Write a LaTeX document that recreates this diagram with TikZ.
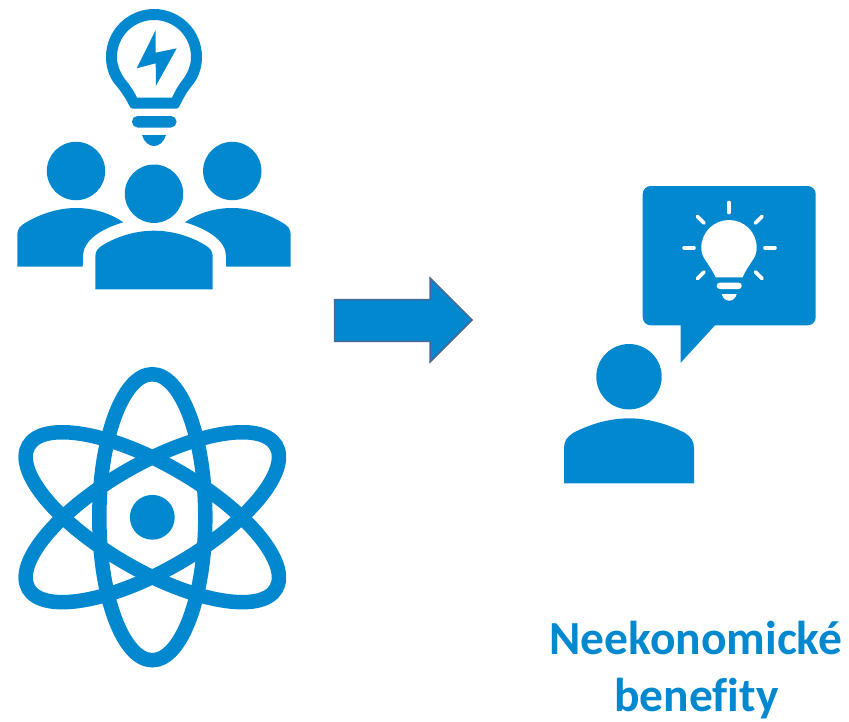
\documentclass[tikz,border=0pt]{standalone}
\usepackage{fontspec}
\setmainfont[RawFeature={-liga}]{Carlito}
\definecolor{iconblue}{HTML}{0288CF}
\definecolor{arrowedge}{HTML}{46699A}
\tikzset{
  icon/.style={fill=iconblue,draw=none},
  whiteicon/.style={fill=white,draw=none},
  ray/.style={draw=white,line width=3.6pt,line cap=round},
  orbit/.style={draw=iconblue,line width=14.5pt},
  caption/.style={text=iconblue,font=\fontsize{47.5}{47.5}\selectfont\bfseries,inner sep=0pt,anchor=base}
}
\begin{document}
\begin{tikzpicture}[x=1pt,y=-1pt]
\useasboundingbox (0,0) rectangle (849,721);
% idea bulb
\path[icon,even odd rule]
  (129,105) .. controls (125,97) and (120,90) .. (114,83)
  .. controls (109,76) and (106,67) .. (106,57)
  .. controls (106,30) and (128,9) .. (154,9)
  .. controls (180,9) and (202,30) .. (202,57)
  .. controls (202,67) and (199,76) .. (194,83)
  .. controls (188,90) and (184,97) .. (180,105)
  .. controls (179,107.5) and (178,108.7) .. (176,108.7)
  -- (133,108.7) .. controls (131,108.7) and (130,107.5) .. (129,105) -- cycle
  (137,97.7) .. controls (134,91) and (129,84) .. (124,78)
  .. controls (120,72) and (117,65) .. (117,57)
  .. controls (117,36) and (134,20) .. (154,20)
  .. controls (174,20) and (191,36) .. (191,57)
  .. controls (191,65) and (188,72) .. (184,78)
  .. controls (179,84) and (175,91) .. (172,97.7) -- cycle;
\path[icon,rounded corners=5.5pt] (132,116) rectangle (176.5,127.5);
\path[icon] (142,135) -- (166,135) .. controls (164,142) and (159,146) .. (154,146) .. controls (149,146) and (144,142) .. (142,135) -- cycle;
\path[icon] (155.7,30) -- (136.7,68.3) -- (155.7,63.3) -- (156,85.7) -- (176.7,48.3) -- (155.7,52.7) -- cycle;
% three people
\path[icon] (76,171) circle[radius=29.2];
\path[icon] (154,193.7) circle[radius=29.2];
\path[icon] (232.3,171) circle[radius=29.2];
\path[icon] (17.3,266.7) -- (17.3,235)
  .. controls (17.3,229) and (20,226) .. (25,223)
  .. controls (40,214) and (58,208) .. (76,208)
  .. controls (93,208) and (110,213) .. (123.3,222.3)
  .. controls (100,229) and (83,241) .. (83,256)
  -- (82.7,266.7) -- cycle;
\path[icon] (290.7,266.7) -- (290.7,235)
  .. controls (290.7,229) and (288,226) .. (283,223)
  .. controls (268,214) and (250,208) .. (232.3,208)
  .. controls (215,208) and (198,213) .. (185,222.3)
  .. controls (208,229) and (226,241) .. (226,256)
  -- (226,266.7) -- cycle;
\path[icon] (95.3,289.3) -- (95.3,256.7)
  .. controls (95.3,251) and (98,248) .. (103,245)
  .. controls (118,236) and (136,230.7) .. (154,230.7)
  .. controls (172,230.7) and (190,236) .. (205,245)
  .. controls (210,248) and (212.7,251) .. (212.7,256.7)
  -- (212.7,289.3) -- cycle;
% atom
\draw[orbit] (152.3,517.2) ellipse[x radius=53,y radius=143];
\draw[orbit,rotate around={60:(152.3,517.2)}] (152.3,517.2) ellipse[x radius=53,y radius=143];
\draw[orbit,rotate around={-60:(152.3,517.2)}] (152.3,517.2) ellipse[x radius=53,y radius=143];
\path[icon] (152.3,517.3) circle[radius=22.4];
% arrow
\path[icon,draw=arrowedge,line width=1.5pt,line join=miter]
  (334.5,299.5) -- (430,299.5) -- (430,278) -- (472,320) -- (430,362) -- (430,341.3) -- (334.5,341.3) -- cycle;
% speech bubble
\path[icon,rounded corners=8pt] (642.7,186) rectangle (815.7,325.3);
\path[icon] (680.7,320) -- (680.7,362.7) -- (715,325.3) -- (715,320) -- cycle;
% white bulb
\path[whiteicon] (715.7,277.3) .. controls (713,271) and (709,266) .. (706,261)
  .. controls (703,257) and (701.3,253) .. (701.3,247.7)
  .. controls (701.3,232) and (714,220) .. (729,220)
  .. controls (744,220) and (756.7,232) .. (756.7,247.7)
  .. controls (756.7,253) and (755,257) .. (752,261)
  .. controls (749,266) and (745,271) .. (742.7,277.3) -- cycle;
\path[whiteicon,rounded corners=3pt] (716.7,282.7) rectangle (741.7,289);
\path[whiteicon] (721.7,294) -- (736.7,294) .. controls (735.5,298.5) and (732.5,300.7) .. (729.2,300.7) .. controls (726,300.7) and (723,298.5) .. (721.7,294) -- cycle;
\draw[ray] (729,202.5) -- (729,212.5);
\draw[ray] (697.5,216.5) -- (704,223);
\draw[ray] (762,216.5) -- (755.5,223);
\draw[ray] (684,247.7) -- (694,247.7);
\draw[ray] (765,247.7) -- (775,247.7);
\draw[ray] (704,272) -- (697.5,278.5);
\draw[ray] (755.5,272) -- (762,278.5);
% person
\path[icon] (629,376.7) circle[radius=32.7];
\path[icon] (564,483.3) -- (564,448.3)
  .. controls (564,441) and (567,437) .. (573,433)
  .. controls (590,424) and (610,418.3) .. (629,418.3)
  .. controls (648,418.3) and (668,424) .. (685,433)
  .. controls (691,437) and (694,441) .. (694,448.3)
  -- (694,483.3) -- cycle;
% caption
\node[caption] (line1) at (696,654) {Neekonomické};
\node[caption] (line2) at (696.5,711.5) {benefity};
\end{tikzpicture}
\end{document}
